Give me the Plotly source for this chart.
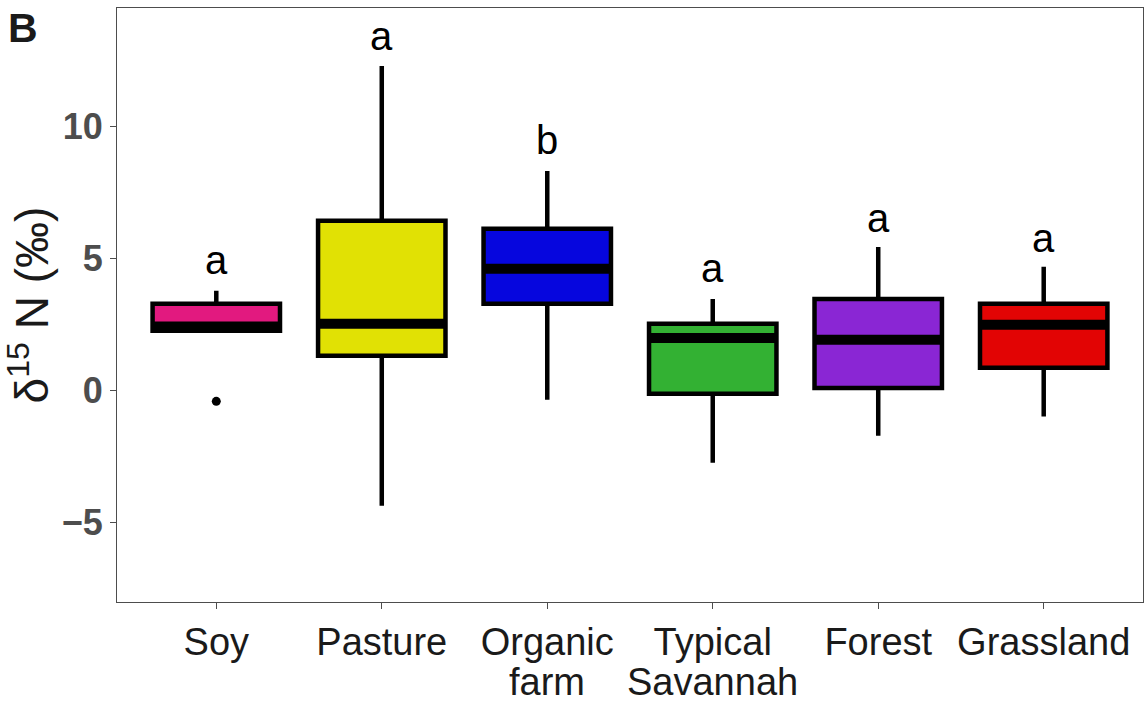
import plotly.graph_objects as go

categories = ["Soy", "Pasture", "Organic", "Typical", "Forest", "Grassland"]
second_line = ["", "", "farm", "Savannah", "", ""]
colors = ["#E2197F", "#E1E104", "#0606DE", "#33B133", "#8A26D4", "#E20404"]

lower_fence = [2.27, -4.35, -0.34, -2.73, -1.70, -0.97]
q1 = [2.27, 1.33, 3.30, -0.11, 0.11, 0.87]
median = [2.44, 2.54, 4.62, 2.00, 1.93, 2.50]
q3 = [3.30, 6.44, 6.14, 2.54, 3.48, 3.30]
upper_fence = [3.79, 12.30, 8.33, 3.48, 5.45, 4.70]

outlier_x = [0]
outlier_y = [-0.40]

letters = ["a", "a", "b", "a", "a", "a"]
letter_y = [4.95, 13.45, 9.50, 4.65, 6.55, 5.80]

yticks = [-5, 0, 5, 10]
box_w = 0.77
xs = list(range(len(categories)))

fig = go.Figure()
for i, c in enumerate(categories):
    fig.add_trace(go.Box(
        x=[i], q1=[q1[i]], median=[median[i]], q3=[q3[i]],
        lowerfence=[lower_fence[i]], upperfence=[upper_fence[i]],
        width=box_w, whiskerwidth=0, fillcolor=colors[i],
        line=dict(color="black", width=4.5), boxpoints=False,
        hoverinfo="skip", showlegend=False,
    ))
    fig.add_trace(go.Scatter(
        x=[i - box_w / 2, i + box_w / 2], y=[median[i], median[i]],
        mode="lines", line=dict(color="black", width=10),
        hoverinfo="skip", showlegend=False,
    ))

fig.add_trace(go.Scatter(
    x=outlier_x, y=outlier_y, mode="markers",
    marker=dict(color="black", size=9), showlegend=False, hoverinfo="skip",
))

for i, (t, ly) in enumerate(zip(letters, letter_y)):
    fig.add_annotation(x=i, y=ly, text=t, showarrow=False, yanchor="middle",
                       font=dict(family="Liberation Sans, Arial", size=40, color="black"))

for i, t in enumerate(second_line):
    if t:
        fig.add_annotation(x=i, y=0, xref="x", yref="paper", text=t, showarrow=False,
                           yanchor="top", yshift=-60, height=36, valign="middle",
                           font=dict(family="Liberation Sans, Arial", size=38, color="#1a1a1a"))

fig.add_annotation(x=0, y=1, xref="paper", yref="paper", text="<b>B</b>", showarrow=False,
                   xanchor="left", yanchor="top", xshift=-111, yshift=5,
                   font=dict(family="Liberation Sans, Arial", size=41, color="#1a1a1a"))

fig.update_layout(
    width=1145, height=702,
    margin=dict(l=117, r=2, t=8, b=100),
    plot_bgcolor="white", paper_bgcolor="white",
    font=dict(family="Liberation Sans, Arial"),
)
fig.update_xaxes(
    range=[-0.6, 5.6], tickvals=xs, ticktext=categories,
    showgrid=False, zeroline=False,
    showline=True, mirror=True, linecolor="#4d4d4d", linewidth=1.2,
    ticks="outside", ticklen=6, tickwidth=1.2, tickcolor="#4d4d4d",
    tickfont=dict(size=38, color="#1a1a1a"),
)
fig.update_yaxes(
    range=[-8, 14.5], tickvals=yticks,
    showgrid=False, zeroline=False,
    showline=True, mirror=True, linecolor="#4d4d4d", linewidth=1.2,
    ticks="outside", ticklen=6, tickwidth=1.2, tickcolor="#4d4d4d",
    tickfont=dict(size=36, color="#4d4d4d", weight="bold"),
    title=dict(text="δ<sup>15</sup> N (‰)", font=dict(size=46, color="#1a1a1a"), standoff=10),
)

fig.write_html("out.html")
